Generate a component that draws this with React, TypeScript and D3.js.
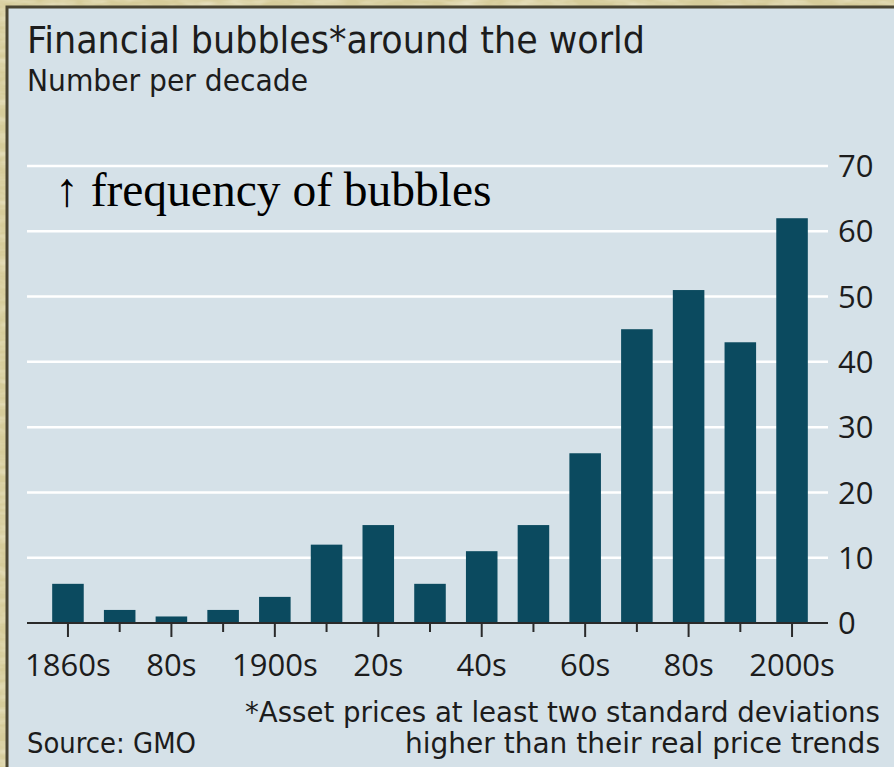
import React from 'react';
import * as d3 from 'd3';

// Financial bubbles per decade
const decades = [
  '1860s', '1870s', '1880s', '1890s', '1900s', '1910s', '1920s', '1930s',
  '1940s', '1950s', '1960s', '1970s', '1980s', '1990s', '2000s',
];
const bubbleCounts = [6, 2, 1, 2, 4, 12, 15, 6, 11, 15, 26, 45, 51, 43, 62];
const decadeLabels = [
  '1860s', '', '80s', '', '1900s', '', '20s', '', '40s', '', '60s', '', '80s', '', '2000s',
];
const yTicks = [0, 10, 20, 30, 40, 50, 60, 70];

const titleText = 'Financial bubbles*around the world';
const subtitleText = 'Number per decade';
const annotationText = '\u2191 frequency of bubbles';
const footnoteLines = [
  '*Asset prices at least two standard deviations',
  'higher than their real price trends',
];
const sourceText = 'Source: GMO';

const W = 894;
const H = 767;
const SANS = "'Liberation Sans Narrow', 'DejaVu Sans Condensed', 'Open Sans', sans-serif";
const TICK_FONT = "'Open Sans', 'DejaVu Sans', sans-serif";

export default function App() {
  const plot = { left: 27, right: 828, top: 166, bottom: 623 };

  const x = d3
    .scaleBand<string>()
    .domain(decades)
    .range([42.1, 817.9])
    .paddingInner(0.39)
    .paddingOuter(0.195);

  const y = d3.scaleLinear().domain([0, 70]).range([plot.bottom, plot.top]);

  const barColor = '#0b4a5f';
  const panelColor = '#d5e1e8';
  const inkColor = '#1c1c1c';

  return (
    <svg
      width={W}
      height={H}
      viewBox={`0 0 ${W} ${H}`}
      style={{ position: 'absolute', left: 0, top: 0, display: 'block' }}
    >
      <defs>
        <filter id="paper" x="0" y="0" width="100%" height="100%">
          <feTurbulence type="fractalNoise" baseFrequency="0.035 0.12" numOctaves="3" seed="7" />
          <feColorMatrix
            type="matrix"
            values="0 0 0 0 0.96  0 0 0 0 0.94  0 0 0 0 0.82  0.9 0 0 0 -0.35"
          />
        </filter>
      </defs>

      {/* parchment frame */}
      <rect x={0} y={0} width={W} height={H} fill="#d6cc9a" />
      <rect x={0} y={0} width={W} height={H} filter="url(#paper)" />

      {/* chart panel */}
      <rect x={7} y={7} width={W + 10} height={H + 10} fill={panelColor} stroke="#4a4531" strokeWidth={3} />

      {/* title block */}
      <text
        x={27}
        y={53}
        fontFamily={SANS}
        fontSize={38}
        fill={inkColor}
        textLength={618}
        lengthAdjust="spacingAndGlyphs"
      >
        {titleText}
      </text>
      <text
        x={27}
        y={91}
        fontFamily={SANS}
        fontSize={30}
        fill={inkColor}
        textLength={281}
        lengthAdjust="spacingAndGlyphs"
      >
        {subtitleText}
      </text>

      {/* gridlines */}
      {yTicks
        .filter((t) => t > 0)
        .map((t) => (
          <line
            key={`g${t}`}
            x1={plot.left}
            x2={plot.right}
            y1={y(t)}
            y2={y(t)}
            stroke="#ffffff"
            strokeWidth={2.5}
          />
        ))}

      {/* bars */}
      {decades.map((d, i) => (
        <rect
          key={d}
          x={x(d)}
          y={y(bubbleCounts[i])}
          width={x.bandwidth()}
          height={y(0) - y(bubbleCounts[i])}
          fill={barColor}
        />
      ))}

      {/* baseline and x ticks */}
      <line x1={plot.left} x2={plot.right} y1={y(0)} y2={y(0)} stroke="#2a2a2a" strokeWidth={2} />
      {decades.map((d, i) => {
        const cx = (x(d) as number) + x.bandwidth() / 2;
        const long = i % 2 === 0;
        return (
          <line
            key={`t${d}`}
            x1={cx}
            x2={cx}
            y1={y(0)}
            y2={y(0) + (long ? 14 : 9)}
            stroke="#2a2a2a"
            strokeWidth={2}
          />
        );
      })}
      {decades.map((d, i) =>
        decadeLabels[i] ? (
          <text
            key={`l${d}`}
            x={(x(d) as number) + x.bandwidth() / 2}
            y={676}
            textAnchor="middle"
            fontFamily={TICK_FONT}
            fontSize={31}
            fill={inkColor}
          >
            {decadeLabels[i]}
          </text>
        ) : null
      )}

      {/* y tick labels on the right */}
      {yTicks.map((t) => (
        <text
          key={`y${t}`}
          x={838}
          y={y(t)}
          dy="0.36em"
          fontFamily={TICK_FONT}
          fontSize={31}
          fill={inkColor}
        >
          {t}
        </text>
      ))}

      {/* annotation */}
      <text
        x={55}
        y={206}
        fontFamily="'Liberation Serif', 'Times New Roman', serif"
        fontSize={47.5}
        fill="#000000"
      >
        {annotationText}
      </text>

      {/* footnote and source */}
      <text
        x={880}
        y={722}
        textAnchor="end"
        fontFamily={SANS}
        fontSize={29}
        fill={inkColor}
        textLength={635}
        lengthAdjust="spacingAndGlyphs"
      >
        {footnoteLines[0]}
      </text>
      <text
        x={880}
        y={753}
        textAnchor="end"
        fontFamily={SANS}
        fontSize={29}
        fill={inkColor}
        textLength={475}
        lengthAdjust="spacingAndGlyphs"
      >
        {footnoteLines[1]}
      </text>
      <text
        x={27}
        y={753}
        fontFamily={SANS}
        fontSize={29}
        fill={inkColor}
        textLength={169}
        lengthAdjust="spacingAndGlyphs"
      >
        {sourceText}
      </text>
    </svg>
  );
}
